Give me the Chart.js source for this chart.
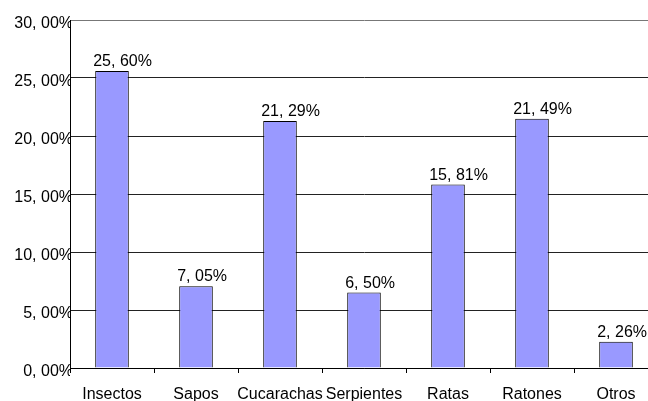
<!DOCTYPE html>
<html>
<head>
<meta charset="utf-8">
<script src="https://cdn.jsdelivr.net/npm/chart.js@4"></script>
<style>
  html, body { margin: 0; padding: 0; background: #fff; overflow: hidden; }
  #wrap { width: 664px; height: 401px; }
</style>
</head>
<body>
<div id="wrap"><canvas id="chart" width="664" height="401"></canvas></div>
<script>
const categories = ['Insectos', 'Sapos', 'Cucarachas', 'Serpientes', 'Ratas', 'Ratones', 'Otros'];
const percentages = [25.60, 7.05, 21.29, 6.50, 15.81, 21.49, 2.26];
const yTicks = [0, 5, 10, 15, 20, 25, 30];

const fmt = v => v.toFixed(2).replace('.', ', ') + '%';

const valueLabels = {
  id: 'valueLabels',
  afterDatasetsDraw(chart) {
    const ctx = chart.ctx;
    const meta = chart.getDatasetMeta(0);
    ctx.save();
    ctx.font = '16px "Liberation Sans", Arial, sans-serif';
    ctx.fillStyle = '#000';
    ctx.textAlign = 'left';
    ctx.textBaseline = 'alphabetic';
    meta.data.forEach((bar, i) => {
      ctx.fillText(fmt(percentages[i]), bar.x - bar.width / 2 - 2, bar.y - 5);
    });
    ctx.restore();
  }
};

new Chart(document.getElementById('chart').getContext('2d'), {
  type: 'bar',
  data: {
    labels: categories,
    datasets: [{
      data: percentages,
      backgroundColor: '#9999ff',
      borderColor: '#000',
      borderWidth: 1,
      barPercentage: 0.4,
      categoryPercentage: 1
    }]
  },
  options: {
    responsive: false,
    animation: false,
    layout: { padding: { top: 20, right: 6, left: 0, bottom: 0 } },
    plugins: { legend: { display: false }, tooltip: { enabled: false } },
    scales: {
      x: {
        grid: { offset: true, drawOnChartArea: false, tickLength: 5, color: '#000' },
        border: { color: '#000', width: 1 },
        ticks: {
          color: '#000',
          font: { family: '"Liberation Sans", Arial, sans-serif', size: 16 },
          padding: 12,
          maxRotation: 0,
          autoSkip: false
        },
        afterFit(scale) { scale.height = 33; }
      },
      y: {
        min: 0,
        max: 30,
        afterBuildTicks(scale) { scale.ticks = yTicks.map(v => ({ value: v })); },
        grid: {
          drawTicks: false,
          color: ctx => ctx.tick && ctx.tick.value === 30 ? '#777' : '#222'
        },
        border: { color: '#000', width: 1 },
        ticks: {
          color: '#000',
          font: { family: '"Liberation Sans", Arial, sans-serif', size: 16 },
          padding: -3,
          labelOffset: 4,
          callback: v => fmt(v)
        },
        afterFit(scale) { scale.width = 70; }
      }
    }
  },
  plugins: [valueLabels]
});
</script>
</body>
</html>
